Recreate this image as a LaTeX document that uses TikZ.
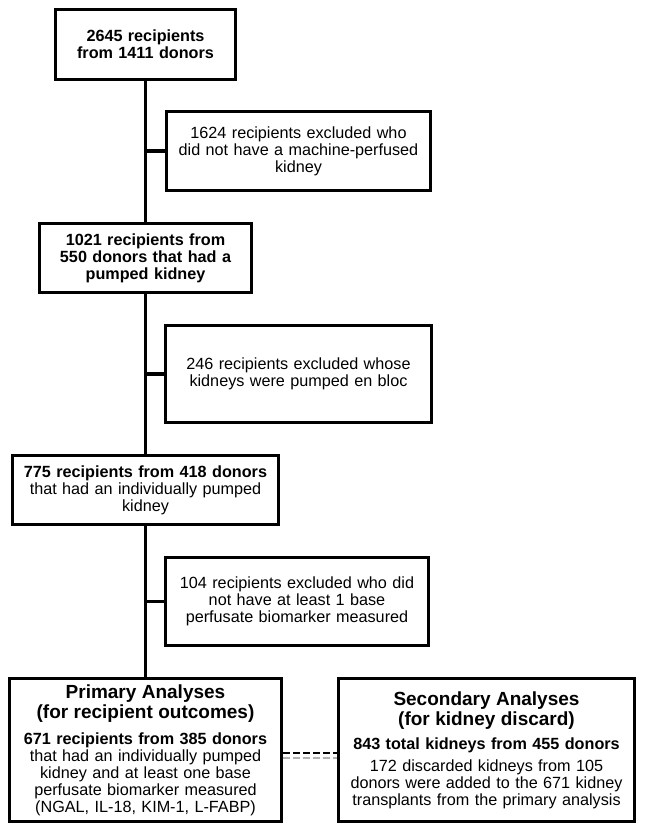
\documentclass[tikz,border=0pt]{standalone}
\usepackage{fontspec}
\setmainfont{Liberation Sans}
\newcommand\fsnorm{\fontsize{16.2}{17}\selectfont}
\newcommand\fstitle{\fontsize{19}{20}\selectfont\bfseries}
\begin{document}
\begin{tikzpicture}[x=1pt,y={(0pt,-1pt)},
  box/.style={draw, line width=3.2pt, align=center, inner sep=0pt, font=\fsnorm},
  link/.style={line width=3.2pt},
  dashblack/.style={line width=2pt, dash pattern=on 7pt off 3pt, black},
  dashgray/.style={line width=1.6pt, dash pattern=on 7pt off 3pt, gray!60}]
\useasboundingbox (0,0) rectangle (645,834);

\node[box, minimum width=180pt, minimum height=70pt, text width=175pt] (b1) at (145.5,44.5)
  {\bfseries 2645 recipients\\from 1411 donors};
\node[box, minimum width=264pt, minimum height=79pt, text width=258pt] (e1) at (298.5,151)
  {1624 recipients excluded who\\did not have a machine-perfused\\kidney};
\node[box, minimum width=212pt, minimum height=69pt, text width=205pt] (b2) at (145.5,258)
  {\bfseries 1021 recipients from\\550 donors that had a\\pumped kidney};
\node[box, minimum width=266pt, minimum height=97pt, text width=260pt] (e2) at (298.5,374)
  {246 recipients excluded whose\\kidneys were pumped en bloc};
\node[box, minimum width=266pt, minimum height=69pt, text width=260pt] (b3) at (145.5,490)
  {\textbf{775 recipients from 418 donors}\\that had an individually pumped\\kidney};
\node[box, minimum width=263pt, minimum height=88pt, text width=258pt] (e3) at (297,601.5)
  {104 recipients excluded who did\\not have at least 1 base\\perfusate biomarker measured};
\node[box, minimum width=272pt, minimum height=143pt, text width=266pt] (prim) at (145.5,750)
  {{\fstitle Primary Analyses\\(for recipient outcomes)\par}\vspace{9pt}%
   \fsnorm\textbf{671 recipients from 385 donors}\\that had an individually pumped\\kidney and at least one base\\perfusate biomarker measured\\(NGAL, IL-18, KIM-1, L-FABP)};
\node[box, minimum width=296pt, minimum height=143pt, text width=290pt] (sec) at (486.5,750)
  {{\fstitle Secondary Analyses\\(for kidney discard)\par}\vspace{7pt}%
   \fsnorm\textbf{843 total kidneys from 455 donors}\par\vspace{5pt}%
   172 discarded kidneys from 105\\donors were added to the 671 kidney\\transplants from the primary analysis};

\draw[link] (b1.south) -- (b2.north);
\draw[link] (b2.south) -- (b3.north);
\draw[link] (b3.south) -- (prim.north);
\draw[link] (e1.west) -- (e1.west -| b1.south);
\draw[link] (e2.west) -- (e2.west -| b1.south);
\draw[link] (e3.west) -- (e3.west -| b1.south);
\draw[dashblack] ([yshift=-3pt]prim.east) -- ([yshift=-3pt]sec.west);
\draw[dashgray] ([yshift=-8pt]prim.east) -- ([yshift=-8pt]sec.west);
\end{tikzpicture}
\end{document}
